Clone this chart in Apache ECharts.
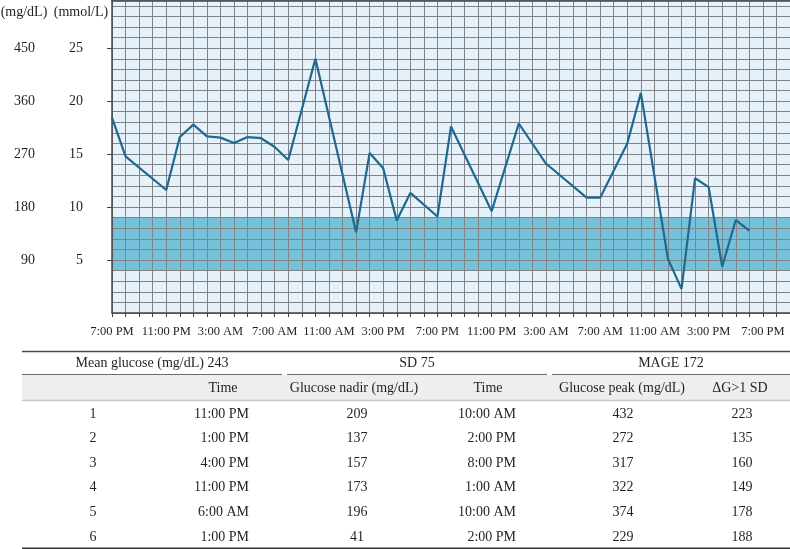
<!DOCTYPE html>
<html>
<head>
<meta charset="utf-8">
<script src="https://cdn.jsdelivr.net/npm/echarts@6/dist/echarts.min.js"></script>
<style>
html,body{margin:0;padding:0;background:#fff;}
#chart{width:790px;height:549px;}
</style>
</head>
<body>
<div id="chart"></div>
<script>
// ---- data ----
const hours = [0,1,4,5,6,7,8,9,10,11,12,13,15,18,19,20,21,22,24,25,28,30,32,35,36,38,39,41,42,43,44,45,46,47];
const glucose = [332,266,209,299,320,300,298,289,299,297,282,260,432,137,272,246,157,204,164,317,173,322,254,196,196,288,374,92,41,229,214,79,158,140];
const targetBand = [72, 162];
const xTickLabels = ['7:00 PM','11:00 PM','3:00 AM','7:00 AM','11:00 AM','3:00 PM','7:00 PM','11:00 PM','3:00 AM','7:00 AM','11:00 AM','3:00 PM','7:00 PM'];
const mgTicks = [90,180,270,360,450];
const mmolTicks = [5,10,15,20,25];
const axisTitles = ['(mg/dL)','(mmol/L)'];

const groupHeaders = ['Mean glucose (mg/dL) 243','SD 75','MAGE 172'];
const subHeaders = ['Time','Glucose nadir (mg/dL)','Time','Glucose peak (mg/dL)','\u0394G>1 SD'];
const rowIndex = [1,2,3,4,5,6];
const nadirTimes = ['11:00 PM','1:00 PM','4:00 PM','11:00 PM','6:00 AM','1:00 PM'];
const nadirValues = [209,137,157,173,196,41];
const peakTimes = ['10:00 AM','2:00 PM','8:00 PM','1:00 AM','10:00 AM','2:00 PM'];
const peakValues = [432,272,317,322,374,229];
const deltaG = [223,135,160,149,178,188];

// ---- styling ----
const FONT = 'Liberation Serif, Times New Roman, serif';
const TXT = '#231f20';
const GRIDC = '#808388';
const AXISC = '#454545';

const chart = echarts.init(document.getElementById('chart'), null, {renderer:'canvas'});

const lineData = hours.map((h,i)=>[h, glucose[i]]);

// table graphics
const g = [];
function txt(x,y,s,align){
  g.push({type:'text', x:x, y:y, silent:true, style:{text:String(s), fill:TXT, font:'14px '+FONT, textAlign:align||'center', textVerticalAlign:'middle'}});
}
function hline(x1,x2,y,w,c){
  g.push({type:'line', silent:true, shape:{x1:x1,y1:y,x2:x2,y2:y}, style:{stroke:c,lineWidth:w}});
}
// axis titles
g.push({type:'text', x:24, y:12, silent:true, style:{text:axisTitles[0], fill:TXT, font:'14px '+FONT, textAlign:'center', textVerticalAlign:'middle'}});
g.push({type:'text', x:81, y:12, silent:true, style:{text:axisTitles[1], fill:TXT, font:'14px '+FONT, textAlign:'center', textVerticalAlign:'middle'}});

// table
g.push({type:'rect', silent:true, shape:{x:22,y:375,width:768,height:25}, style:{fill:'#eeeeee'}});
hline(22,790,351.5,1.5,'#4a4a4a');
hline(22,282,374.5,1,'#6a6a6a');
hline(287,547,374.5,1,'#6a6a6a');
hline(552,790,374.5,1,'#6a6a6a');
hline(22,790,400.5,1.5,'#c8c8c8');
hline(22,790,548.5,2,'#333333');
const groupX = [152,417,671];
groupHeaders.forEach((s,i)=>txt(groupX[i],363,s));
const subX = [223,354,488,622,740];
subHeaders.forEach((s,i)=>txt(subX[i],388,s));
rowIndex.forEach((r,i)=>{
  const y = 414 + i*24.6;
  txt(93,y,r);
  txt(249,y,nadirTimes[i],'right');
  txt(357,y,nadirValues[i]);
  txt(516,y,peakTimes[i],'right');
  txt(623,y,peakValues[i]);
  txt(742,y,deltaG[i]);
});

const option = {
  animation:false,
  grid:{left:112,right:0,top:0.5,bottom:236,containLabel:false,outerBoundsMode:'none',show:true,backgroundColor:'#e7f1fa',borderWidth:0},
  xAxis:[{
    type:'value', min:0, max:50, interval:1, z:2,
    axisLine:{show:true,onZero:false,lineStyle:{color:AXISC,width:1.5}},
    axisTick:{show:true,length:4,lineStyle:{color:AXISC}},
    splitLine:{show:true,lineStyle:{color:GRIDC,width:1}},
    axisLabel:{
      customValues:[0,4,8,12,16,20,24,28,32,36,40,44,48],
      formatter:function(v){ return (v%4===0 && v/4 < xTickLabels.length) ? xTickLabels[v/4] : ''; },
      fontFamily:FONT, fontSize:12.5, color:TXT, margin:12, hideOverlap:false
    }
  },{
    type:'value', position:'top', min:0, max:50, z:2,
    axisLine:{show:true,onZero:false,lineStyle:{color:AXISC,width:1.5}},
    axisTick:{show:false}, axisLabel:{show:false}, splitLine:{show:false}
  }],
  yAxis:[
    {type:'value', position:'left', min:0, max:531, interval:18, z:2,
      axisLine:{show:true,onZero:false,lineStyle:{color:AXISC,width:1.5}},
      axisTick:{show:false}, axisLabel:{show:false},
      splitLine:{show:true,lineStyle:{color:GRIDC,width:1}}},
    {type:'value', position:'left', offset:0, min:0, max:531, interval:90,
      axisLine:{show:false}, splitLine:{show:false},
      axisTick:{show:true,length:5,customValues:mgTicks,lineStyle:{color:AXISC}},
      axisLabel:{customValues:mgTicks, formatter:function(v){return mgTicks.indexOf(v)>=0? String(v):'';}, margin:77, fontFamily:FONT, fontSize:14, color:TXT}},
    {type:'value', position:'left', offset:0, min:0, max:531, interval:90,
      axisLine:{show:false}, splitLine:{show:false}, axisTick:{show:false},
      axisLabel:{customValues:mgTicks, formatter:function(v){var i=mgTicks.indexOf(v); return i>=0? String(mmolTicks[i]):'';}, margin:29, fontFamily:FONT, fontSize:14, color:TXT}}
  ],
  series:[
    {type:'line', data:[], z:1, silent:true,
      markArea:{silent:true, itemStyle:{color:'#77c0d9'}, data:[[{yAxis:targetBand[0]},{yAxis:targetBand[1]}]]}},
    {type:'line', data:lineData, z:3, symbol:'none', smooth:false,
      lineStyle:{color:'#1e6a8f',width:2.2}}
  ],
  graphic:g
};
chart.setOption(option);
</script>
</body>
</html>
